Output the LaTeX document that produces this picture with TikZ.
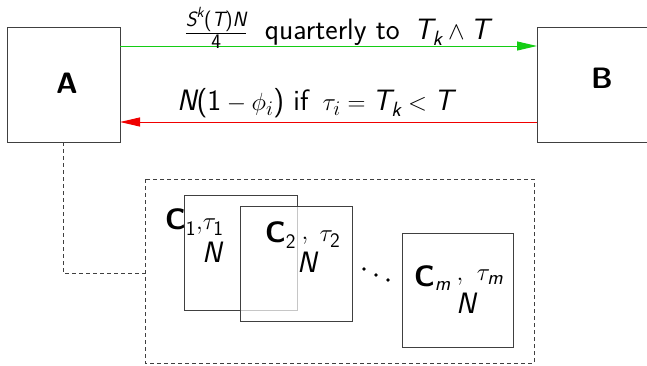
\documentclass[tikz,border=0pt]{standalone}
\usepackage{amsmath}
\usetikzlibrary{arrows.meta}
\definecolor{arrgreen}{RGB}{20,205,20}
\definecolor{arrred}{RGB}{240,0,0}
\newcommand\vi[1]{\textit{#1}}
\newcommand\vu[1]{\textup{#1}}
\newcommand\vb[1]{\textbf{#1}}
\begin{document}
\begin{tikzpicture}[x=1pt,y=-1pt,
  boxst/.style={draw=black!75,line width=0.9pt},
  dashst/.style={draw=black!75,line width=0.8pt,dash pattern=on 4pt off 3pt},
  lbl/.style={inner sep=0pt,font=\fontsize{29.5}{33}\selectfont\sffamily},
  dotst/.style={fill=black},
  tip/.style={-{Triangle[length=20pt,width=9pt]}}]
\useasboundingbox (0,0) rectangle (647,365);
% main boxes
\draw[boxst] (7,27) rectangle (120,142);
\node[lbl] (A) at (67,83) {\bfseries A};
\draw[boxst] (537,27) rectangle (680,142);
\node[lbl] (B) at (602,78) {\bfseries B};
\coordinate (Aout) at (120,46);
\coordinate (Bin) at (537,46);
\coordinate (Bout) at (537,122);
\coordinate (Ain) at (120,122);
\draw[arrgreen,line width=1pt,tip] (Aout) -- (Bin);
\draw[arrred,line width=1pt,tip] (Bout) -- (Ain);
\node[lbl] (toplbl) at (337,28) {$\frac{\vi{S}^{\vi{k}}\vu{(}\vi{T}\vu{)}\vi{N}}{\vu{4}}$\; quarterly to \,$\vi{T}_{\vi{k}}\wedge \vi{T}$};
\node[lbl] (botlbl) at (315,103) {$\vi{N}\vu{(1}-\phi_i\vu{)}$ if\, $\tau_i = \vi{T}_{\vi{k}} < \vi{T}$};
% dashed group
\draw[dashst] (145,179) rectangle (534,363);
\coordinate (Abot) at (63,142);
\coordinate (corner) at (63,273);
\coordinate (grp) at (145,273);
\draw[dashst] (Abot) -- (corner) -- (grp);
% C boxes
\draw[boxst] (184,195) rectangle (297,310);
\node[lbl,anchor=west] (C1) at (165,222) {$\vb{C}_{\vu{1}}{,}\tau_{\vu{1}}$};
\node[lbl] (N1) at (212,252) {$\vi{N}$};
\draw[boxst,fill=white,fill opacity=0.7] (240,206) rectangle (352,321);
\node[lbl,anchor=west] (C2) at (265,235) {$\vb{C}_{\vu{2}}$};
\node[lbl] (c2c) at (305,241) {$,$};
\node[lbl] (t2) at (330,239) {$\tau_{\vu{2}}$};
\node[lbl] (N2) at (307,262) {$\vi{N}$};
\fill[dotst] (364,269) circle (1.9);
\fill[dotst] (376,275) circle (1.9);
\fill[dotst] (388,280) circle (1.9);
\draw[boxst] (402,233) rectangle (513,347);
\node[lbl,anchor=west] (Cm) at (414,278) {$\vb{C}_{\vi{m}}$};
\node[lbl] (cmc) at (460,282) {$,$};
\node[lbl] (tm) at (490,277) {$\tau_{\vi{m}}$};
\node[lbl] (Nm) at (466,303) {$\vi{N}$};
\end{tikzpicture}
\end{document}
